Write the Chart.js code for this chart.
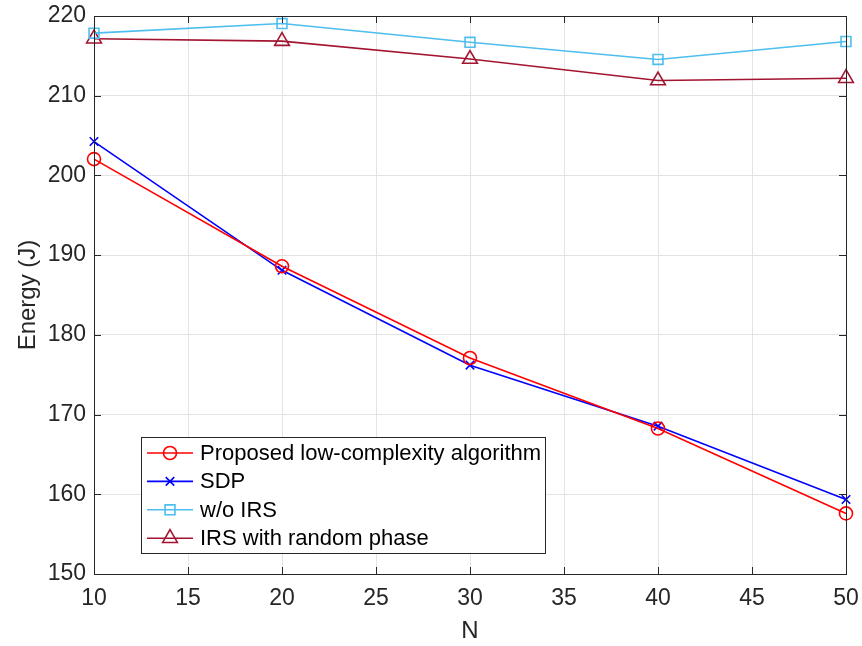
<!DOCTYPE html>
<html>
<head>
<meta charset="utf-8">
<script src="https://cdn.jsdelivr.net/npm/chart.js@4.4.1/dist/chart.umd.min.js"></script>
<style>
  html, body { margin: 0; padding: 0; background: #fff; }
  #wrap { width: 862px; height: 646px; }
</style>
</head>
<body>
<div id="wrap"><canvas id="energyChart"></canvas></div>
<script>
// N values on the x axis
const nValues = [10, 20, 30, 40, 50];

// energy (J) for each scheme
const proposedEnergy = [202.05, 188.6, 177.1, 168.25, 157.6];
const sdpEnergy = [204.25, 188.1, 176.2, 168.55, 159.35];
const noIrsEnergy = [217.85, 219.05, 216.7, 214.55, 216.8];
const randomPhaseEnergy = [217.15, 216.85, 214.6, 211.9, 212.2];

const seriesLabels = [
    'Proposed low-complexity algorithm',
    'SDP',
    'w/o IRS',
    'IRS with random phase'
];

const xTicks = [10, 15, 20, 25, 30, 35, 40, 45, 50];
const yTicks = [150, 160, 170, 180, 190, 200, 210, 220];

const FONT = '"Liberation Sans", Arial, Helvetica, sans-serif';
const AXIS_COLOR = '#262626';

function toPoints(ys) {
    return nValues.map((n, i) => ({ x: n, y: ys[i] }));
}

function makeSet(label, ys, color, style, radius) {
    return {
        label: label,
        data: toPoints(ys),
        borderColor: color,
        backgroundColor: color,
        borderWidth: 1.6,
        pointStyle: style,
        pointRadius: radius,
        pointHoverRadius: radius,
        pointBorderColor: color,
        pointBackgroundColor: 'rgba(0,0,0,0)',
        pointBorderWidth: 1.6,
        tension: 0,
        clip: false
    };
}

// no extra room for label overhang, the plot box is set by layout padding
function noOverhang(s) {
    s.paddingLeft = 0;
    s.paddingRight = 0;
    s.paddingTop = 0;
    s.paddingBottom = 0;
}

// inward ticks and the box round the axes
const frameTicks = {
    id: 'frameTicks',
    afterDatasetsDraw(chart) {
        const { ctx, chartArea: a, scales } = chart;
        ctx.save();
        ctx.strokeStyle = AXIS_COLOR;
        ctx.lineWidth = 1;
        const len = 7;
        ctx.beginPath();
        xTicks.forEach(v => {
            const x = Math.round(scales.x.getPixelForValue(v)) + 0.5;
            ctx.moveTo(x, a.bottom); ctx.lineTo(x, a.bottom - len);
            ctx.moveTo(x, a.top); ctx.lineTo(x, a.top + len);
        });
        yTicks.forEach(v => {
            const y = Math.round(scales.y.getPixelForValue(v)) + 0.5;
            ctx.moveTo(a.left, y); ctx.lineTo(a.left + len, y);
            ctx.moveTo(a.right, y); ctx.lineTo(a.right - len, y);
        });
        ctx.stroke();
        ctx.strokeRect(Math.round(a.left) + 0.5, Math.round(a.top) + 0.5,
            Math.round(a.right - a.left), Math.round(a.bottom - a.top));
        ctx.restore();
    }
};

// legend box in the lower-left of the axes
const boxLegend = {
    id: 'boxLegend',
    afterDraw(chart) {
        const { ctx } = chart;
        const bx = 141, by = 437, bw = 404, bh = 116;
        const rowH = 28.4, firstY = 453;
        ctx.save();
        ctx.fillStyle = '#fff';
        ctx.fillRect(bx, by, bw, bh);
        ctx.strokeStyle = AXIS_COLOR;
        ctx.lineWidth = 1;
        ctx.strokeRect(bx + 0.5, by + 0.5, bw, bh);
        chart.data.datasets.forEach((ds, i) => {
            const y = firstY + i * rowH;
            ctx.strokeStyle = ds.borderColor;
            ctx.lineWidth = 1.6;
            ctx.beginPath();
            ctx.moveTo(147, y); ctx.lineTo(193, y);
            ctx.stroke();
            ctx.fillStyle = 'rgba(0,0,0,0)';
            Chart.helpers.drawPoint(ctx, {
                pointStyle: ds.pointStyle,
                radius: ds.pointRadius,
                borderWidth: 1.6
            }, 170, y);
            ctx.fillStyle = '#000';
            ctx.font = '22px ' + FONT;
            ctx.textBaseline = 'middle';
            ctx.textAlign = 'left';
            ctx.fillText(ds.label, 200, y + 1);
        });
        ctx.restore();
    }
};

new Chart(document.getElementById('energyChart').getContext('2d'), {
    type: 'line',
    data: {
        datasets: [
            makeSet(seriesLabels[0], proposedEnergy, '#ff0000', 'circle', 6.5),
            makeSet(seriesLabels[1], sdpEnergy, '#0000ff', 'crossRot', 6),
            makeSet(seriesLabels[2], noIrsEnergy, '#4dbeee', 'rect', 7),
            makeSet(seriesLabels[3], randomPhaseEnergy, '#a2142f', 'triangle', 8.5)
        ]
    },
    options: {
        responsive: true,
        maintainAspectRatio: false,
        animation: false,
        events: [],
        layout: { padding: { top: 16, right: 16, left: 0, bottom: 0 } },
        plugins: {
            legend: { display: false },
            tooltip: { enabled: false }
        },
        scales: {
            x: {
                type: 'linear',
                min: 10,
                max: 50,
                afterBuildTicks: s => { s.ticks = xTicks.map(v => ({ value: v })); },
                afterFit: s => { s.height = 72; noOverhang(s); },
                grid: { color: '#e3e3e3', drawTicks: false, lineWidth: 1 },
                border: { display: false },
                ticks: {
                    color: AXIS_COLOR,
                    font: { family: FONT, size: 23 },
                    padding: 11,
                    maxRotation: 0
                },
                title: {
                    display: true,
                    text: 'N',
                    color: AXIS_COLOR,
                    font: { family: FONT, size: 24 },
                    padding: { top: 0, bottom: 0 }
                }
            },
            y: {
                min: 150,
                max: 220,
                afterBuildTicks: s => { s.ticks = yTicks.map(v => ({ value: v })); },
                afterFit: s => { s.width = 94; noOverhang(s); },
                grid: { color: '#e3e3e3', drawTicks: false, lineWidth: 1 },
                border: { display: false },
                ticks: {
                    color: AXIS_COLOR,
                    font: { family: FONT, size: 23 },
                    padding: 8
                },
                title: {
                    display: true,
                    text: 'Energy (J)',
                    color: AXIS_COLOR,
                    font: { family: FONT, size: 24 },
                    padding: { top: 14, bottom: 0 }
                }
            }
        }
    },
    plugins: [frameTicks, boxLegend]
});
</script>
</body>
</html>
